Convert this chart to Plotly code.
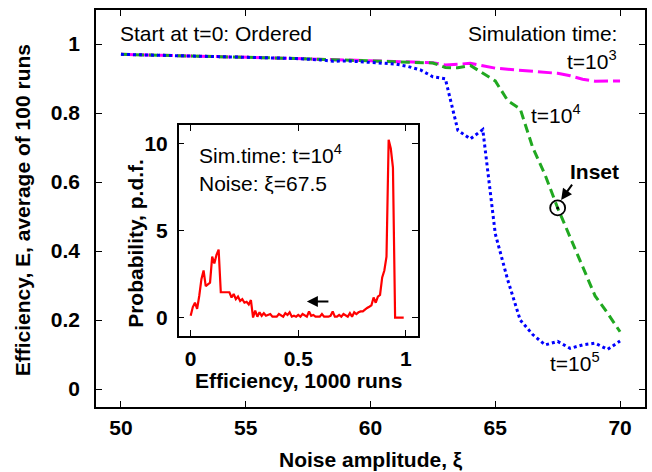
import plotly.graph_objects as go

# ---------------- data ----------------
xi = [50, 50.5, 51, 51.5, 52, 52.5, 53, 53.5, 54, 54.5, 55, 55.5, 56, 56.5, 57, 57.5,
      58, 58.5, 59, 59.5, 60, 60.5, 61, 61.5, 62, 62.5, 63, 63.5, 64, 64.5, 65, 65.5,
      66, 66.5, 67, 67.5, 68, 68.5, 69, 69.5, 70]

eff_t1e3 = [0.970, 0.969, 0.968, 0.967, 0.966, 0.966, 0.965, 0.964, 0.963, 0.962, 0.962,
            0.961, 0.960, 0.959, 0.958, 0.957, 0.956, 0.955, 0.953, 0.952, 0.951, 0.950,
            0.949, 0.948, 0.947, 0.946, 0.939, 0.942, 0.944, 0.937, 0.930, 0.927, 0.924,
            0.921, 0.918, 0.915, 0.908, 0.898, 0.892, 0.892, 0.893]

eff_t1e4 = [0.970, 0.969, 0.968, 0.967, 0.966, 0.966, 0.965, 0.964, 0.963, 0.962, 0.962,
            0.961, 0.960, 0.959, 0.958, 0.957, 0.956, 0.955, 0.953, 0.952, 0.951, 0.949,
            0.948, 0.947, 0.946, 0.945, 0.932, 0.931, 0.938, 0.915, 0.893, 0.836, 0.812,
            0.700, 0.620, 0.525, 0.440, 0.355, 0.270, 0.220, 0.166]

eff_t1e5 = [0.970, 0.969, 0.968, 0.967, 0.966, 0.966, 0.965, 0.964, 0.963, 0.962, 0.962,
            0.961, 0.960, 0.959, 0.958, 0.957, 0.954, 0.950, 0.951, 0.949, 0.947, 0.944,
            0.942, 0.935, 0.925, 0.905, 0.899, 0.750, 0.725, 0.752, 0.450, 0.316, 0.200,
            0.158, 0.128, 0.138, 0.118, 0.128, 0.133, 0.115, 0.139]

eff_bins = [i / 100 for i in range(100)]
pdf = [0.1, 0.6, 0.85, 0.5, 1.25, 2.2, 2.7, 1.8, 1.9, 2.0,
       3.5, 3.1, 3.6, 3.9, 1.45, 1.45, 1.45, 1.45, 1.45, 1.15,
       1.35, 1.05, 1.2, 0.95, 1.05, 0.85, 0.9, 0.75, 1.0, 0.0,
       0.4, 0.05, 0.3, 0.1, 0.25, 0.1, 0.15, 0.2, 0.05, 0.05,
       0.05, 0.2, 0.1, 0.05, 0.25, 0.15, 0.3, 0.05, 0.1, 0.05,
       0.15, 0.05, 0.2, 0.1, 0.05, 0.35, 0.1, 0.15, 0.05, 0.05,
       0.05, 0.2, 0.05, 0.05, 0.05, 0.1, 0.35, 0.05, 0.05, 0.15,
       0.05, 0.2, 0.1, 0.05, 0.25, 0.05, 0.3, 0.2, 0.3, 0.35,
       0.35, 0.48, 0.55, 0.62, 0.7, 1.15, 0.85, 1.2, 1.3, 2.3,
       2.7, 3.5, 10.2, 9.7, 8.6, 0.0, 0.0, 0.0, 0.0, 0.0]

main_xticks = [50, 55, 60, 65, 70]
main_yticks = [0, 0.2, 0.4, 0.6, 0.8, 1]
inset_xticks = [0, 0.5, 1]
inset_yticks = [0, 5, 10]
inset_point = (67.5, 0.525)

# ---------------- layout helpers ----------------
W, H = 652, 472
L, R, T, B = 96, 647, 10, 407


def px(x):
    return (x - L) / (R - L)


def py(y):
    return (B - y) / (B - T)


FONT = "Liberation Sans, Arial, sans-serif"
FS = 21

fig = go.Figure()

fig.add_trace(go.Scatter(x=xi, y=eff_t1e3, mode="lines",
                         line=dict(color="#ff00ff", width=3, dash="14px,5px"),
                         xaxis="x", yaxis="y"))
fig.add_trace(go.Scatter(x=xi, y=eff_t1e4, mode="lines",
                         line=dict(color="#20a820", width=3, dash="9px,5px"),
                         xaxis="x", yaxis="y"))
fig.add_trace(go.Scatter(x=xi, y=eff_t1e5, mode="lines",
                         line=dict(color="#0000ff", width=3, dash="3px,3px"),
                         xaxis="x", yaxis="y"))
fig.add_trace(go.Scatter(x=[inset_point[0]], y=[inset_point[1]], mode="markers",
                         marker=dict(symbol="circle-open", size=15, color="black",
                                     line=dict(width=1.8, color="black")),
                         xaxis="x", yaxis="y"))
fig.add_trace(go.Scatter(x=[inset_point[0]], y=[inset_point[1]], mode="markers",
                         marker=dict(symbol="circle", size=3, color="black"),
                         xaxis="x", yaxis="y"))
fig.add_trace(go.Scatter(x=eff_bins, y=pdf, mode="lines",
                         line=dict(color="#ff0000", width=2.2),
                         xaxis="x2", yaxis="y2"))

axis_common = dict(showline=True, linecolor="black", linewidth=1.5, mirror="allticks",
                   ticks="inside", ticklen=6, tickwidth=1, tickcolor="black",
                   showgrid=False, zeroline=False,
                   tickfont=dict(family=FONT, size=FS, color="black", weight="bold"))

fig.update_layout(
    width=W, height=H,
    margin=dict(l=L, r=W - R, t=T, b=H - B),
    paper_bgcolor="white", plot_bgcolor="white",
    showlegend=False,
    font=dict(family=FONT, size=FS, color="black"),
    xaxis=dict(range=[49, 71], tickvals=main_xticks, ticklabelstandoff=1,
               domain=[0, 1], anchor="y", **axis_common),
    yaxis=dict(range=[-0.052, 1.0986], tickvals=main_yticks, ticklabelstandoff=10,
               domain=[0, 1], anchor="x", **axis_common),
    xaxis2=dict(range=[-0.0556, 1.0556], tickvals=inset_xticks, ticktext=["0", "0.5", "1"],
                ticklabelstandoff=3, domain=[px(179), px(419)], anchor="y2", **axis_common),
    yaxis2=dict(range=[-1.06, 11.05], tickvals=inset_yticks, ticklabelstandoff=5,
                domain=[py(336), py(125)], anchor="x2", **axis_common),
)

ann = []


def text(x, y, s, xanchor="left", bold=False, size=FS, angle=0):
    ann.append(dict(x=px(x), y=py(y), xref="paper", yref="paper", text=s,
                    showarrow=False, xanchor=xanchor, yanchor="middle", textangle=angle,
                    font=dict(family=FONT, size=size, color="black",
                              weight="bold" if bold else "normal")))


text(22, 210, "Efficiency, E, average of 100 runs", xanchor="center", bold=True, angle=-90)
text(372, 459, "Noise amplitude, \u03be", xanchor="center", bold=True)
text(136, 243, "Probability, p.d.f.", xanchor="center", bold=True, angle=-90)
text(299, 380, "Efficiency, 1000 runs", xanchor="center", bold=True)
text(118, 33, "Start at t=0: Ordered")
text(621, 33, "Simulation time:", xanchor="right")
text(621, 60, "t=10<sup>3</sup>", xanchor="right")
text(531, 114, "t=10<sup>4</sup>")
text(550, 362, "t=10<sup>5</sup>")
text(570, 171, "Inset", bold=True)
text(197, 154, "Sim.time: t=10<sup>4</sup>")
text(197, 183, "Noise: \u03be=67.5")

# arrow to the inset point
ann.append(dict(x=67.64, y=0.548, ax=68.12, ay=0.597, xref="x", yref="y", axref="x", ayref="y",
                text="", showarrow=True, arrowhead=2, arrowsize=1.1, arrowwidth=2,
                arrowcolor="black"))
# arrow inside the inset
ann.append(dict(x=0.54, y=0.92, ax=0.647, ay=0.92, xref="x2", yref="y2", axref="x2", ayref="y2",
                text="", showarrow=True, arrowhead=2, arrowsize=1.1, arrowwidth=2,
                arrowcolor="black"))

fig.update_layout(annotations=ann)

fig.write_html("out.html")
